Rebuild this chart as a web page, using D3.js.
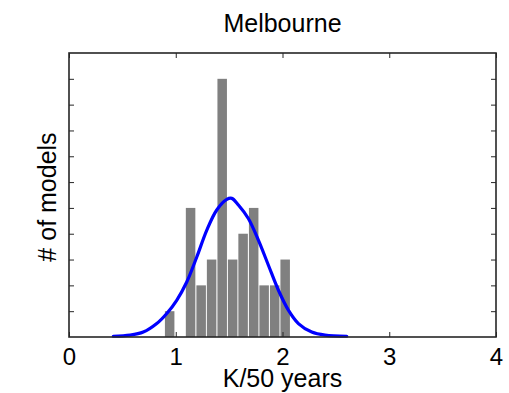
<!DOCTYPE html>
<html>
<head>
<meta charset="utf-8">
<script src="https://cdn.jsdelivr.net/npm/d3@7"></script>
<style>
  html, body { margin: 0; padding: 0; background: #fff; }
  svg { display: block; font-family: "Liberation Sans", Arial, Helvetica, sans-serif; }
</style>
</head>
<body>
<svg id="chart" width="509" height="393"></svg>
<script>
// Histogram of model trends (K per 50 years), Melbourne
const binCenters = [0.943, 1.041, 1.139, 1.238, 1.336, 1.435, 1.533, 1.631, 1.730, 1.828, 1.927, 2.025];
const binCounts  = [1, 0, 5, 2, 3, 10, 3, 4, 5, 2, 2, 3];
const binWidth = 0.0984;

// Fitted normal curve, sampled along x
const fitX = [0.415, 0.572, 0.696, 0.822, 0.916, 1.009, 1.103, 1.197, 1.291, 1.384, 1.478, 1.525,
              1.587, 1.680, 1.774, 1.868, 1.962, 2.055, 2.149, 2.274, 2.399, 2.602];
const fitY = [0.03, 0.07, 0.19, 0.52, 0.91, 1.42, 2.13, 3.10, 4.14, 4.92, 5.33, 5.37,
              5.11, 4.59, 3.75, 2.78, 1.81, 1.04, 0.52, 0.19, 0.07, 0.03];

const xTicks = [0, 1, 2, 3, 4];
const yTicks = [1, 2, 3, 4, 5, 6, 7, 8, 9, 10];

const titleText = "Melbourne";
const xLabel = "K/50 years";
const yLabel = "# of models";

const plot = { left: 69, right: 496, top: 53, bottom: 337 };
const svg = d3.select("#chart");

const x = d3.scaleLinear().domain([0, 4]).range([plot.left, plot.right]);
const y = d3.scaleLinear().domain([0, 11]).range([plot.bottom, plot.top]);

// bars
const pitch = x(binWidth) - x(0);
svg.append("g")
  .selectAll("rect")
  .data(binCenters.map((c, i) => ({ c, n: binCounts[i] })).filter(d => d.n > 0))
  .join("rect")
  .attr("x", d => x(d.c) - pitch / 2 + 0.5)
  .attr("width", pitch - 1)
  .attr("y", d => y(d.n))
  .attr("height", d => y(0) - y(d.n))
  .attr("fill", "#808080");

// fitted curve
const line = d3.line()
  .x((d, i) => x(fitX[i]))
  .y(d => y(d))
  .curve(d3.curveCatmullRom.alpha(0.5));
svg.append("path")
  .datum(fitY)
  .attr("d", line)
  .attr("fill", "none")
  .attr("stroke", "#0000ff")
  .attr("stroke-width", 3.2)
  .attr("stroke-linecap", "round");

// axes with inward ticks
const axisColor = "#262626";
const tickLen = 5;

const gBottom = svg.append("g").attr("transform", `translate(0,${plot.bottom})`)
  .call(d3.axisBottom(x).tickValues(xTicks).tickFormat(d3.format("d"))
    .tickSizeInner(-tickLen).tickSizeOuter(0).tickPadding(11));
const gTop = svg.append("g").attr("transform", `translate(0,${plot.top})`)
  .call(d3.axisTop(x).tickValues(xTicks).tickFormat("")
    .tickSizeInner(-tickLen).tickSizeOuter(0));
const gLeft = svg.append("g").attr("transform", `translate(${plot.left},0)`)
  .call(d3.axisLeft(y).tickValues(yTicks).tickFormat("")
    .tickSizeInner(-tickLen).tickSizeOuter(0));
const gRight = svg.append("g").attr("transform", `translate(${plot.right},0)`)
  .call(d3.axisRight(y).tickValues(yTicks).tickFormat("")
    .tickSizeInner(-tickLen).tickSizeOuter(0));

[gBottom, gTop, gLeft, gRight].forEach(g => {
  g.select(".domain").remove();
  g.selectAll("line").attr("stroke", axisColor).attr("stroke-width", 1);
});
gBottom.selectAll("text")
  .attr("fill", "#000")
  .style("font-size", "24px");

// frame
svg.append("rect")
  .attr("x", plot.left).attr("y", plot.top)
  .attr("width", plot.right - plot.left).attr("height", plot.bottom - plot.top)
  .attr("fill", "none")
  .attr("stroke", axisColor)
  .attr("stroke-width", 1.6);

// labels
svg.append("text")
  .attr("x", (plot.left + plot.right) / 2).attr("y", 31.5)
  .attr("text-anchor", "middle")
  .style("font-size", "25px")
  .text(titleText);

svg.append("text")
  .attr("x", (plot.left + plot.right) / 2).attr("y", 387)
  .attr("text-anchor", "middle")
  .style("font-size", "25px")
  .text(xLabel);

svg.append("text")
  .attr("transform", `translate(55.5,${(plot.top + plot.bottom) / 2 + 2}) rotate(-90)`)
  .attr("text-anchor", "middle")
  .style("font-size", "25px")
  .text(yLabel);
</script>
</body>
</html>
